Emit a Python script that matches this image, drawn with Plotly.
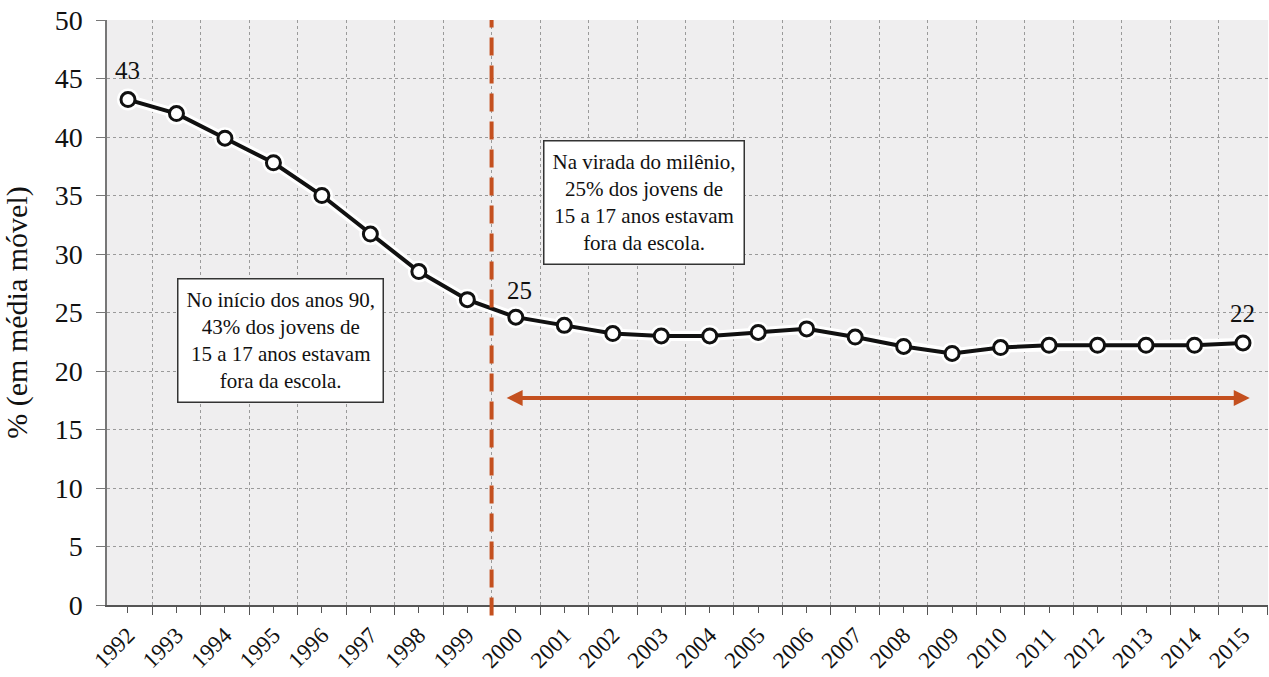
import plotly.graph_objects as go

years = list(range(1992, 2016))
values = [43.2, 42.0, 39.9, 37.8, 35.0, 31.7, 28.5, 26.1, 24.6, 23.9, 23.2, 23.0,
          23.0, 23.3, 23.6, 22.9, 22.1, 21.5, 22.0, 22.2, 22.2, 22.2, 22.2, 22.4]
y_ticks = [0, 5, 10, 15, 20, 25, 30, 35, 40, 45, 50]
y_title = "% (em média móvel)"
box_left = "No início dos anos 90,<br>43% dos jovens de<br>15 a 17 anos estavam<br>fora da escola."
box_right = "Na virada do milênio,<br>25% dos jovens de<br>15 a 17 anos estavam<br>fora da escola."
divider_year = 1999.5

FONT = "Liberation Serif"
ORANGE = "#c4501f"

fig = go.Figure()
# white halo under the line
fig.add_trace(go.Scatter(x=years, y=values, mode="lines+markers",
                         line=dict(color="white", width=10),
                         marker=dict(size=22, color="white"),
                         hoverinfo="skip", showlegend=False))
fig.add_trace(go.Scatter(x=years, y=values, mode="lines+markers",
                         line=dict(color="#111111", width=4),
                         marker=dict(size=14, color="white",
                                     line=dict(color="#111111", width=3)),
                         showlegend=False))

# vertical dashed divider
fig.add_shape(type="line", xref="x", yref="paper", x0=divider_year, x1=divider_year,
              y0=-0.018, y1=1, line=dict(color=ORANGE, width=4, dash="18px,10px"))

# double arrow
fig.add_annotation(x=2015.14, y=17.7, ax=1999.78, ay=17.7, xref="x", yref="y",
                   axref="x", ayref="y", showarrow=True, arrowside="end+start",
                   arrowhead=2, arrowsize=0.8, arrowwidth=4, arrowcolor=ORANGE, text="")

# value labels
for xv, yv, t in [(1992, 45.7, "43"), (2000.07, 26.9, "25"), (2015.0, 24.9, "22")]:
    fig.add_annotation(x=xv, y=yv, text=t, showarrow=False,
                       font=dict(family=FONT, size=25, color="#111"))

# text boxes
for xv, yv, t in [(1995.14, 22.65, box_left), (2002.64, 34.36, box_right)]:
    fig.add_annotation(x=xv, y=yv, text=t, showarrow=False, align="center",
                       font=dict(family=FONT, size=21, color="#111"),
                       bgcolor="white", bordercolor="#333", borderwidth=1.5,
                       borderpad=8)

fig.update_layout(
    width=1269, height=677,
    margin=dict(l=107, r=1, t=20, b=72),
    paper_bgcolor="white", plot_bgcolor="#efeeef",
    font=dict(family=FONT, color="#111"),
)
fig.update_xaxes(
    automargin=False,
    range=[1991.567, 2015.516],
    tickvals=years, ticktext=[str(y) for y in years],
    tickangle=-45, tickfont=dict(family=FONT, size=23, color="#111"),
    ticks="outside", ticklen=6, tickcolor="#555",
    showgrid=False, zeroline=False,
    showline=True, linecolor="#555", linewidth=1.5,
    minor=dict(tick0=1991.5, dtick=1, ticks="outside", ticklen=8, tickcolor="#555",
               showgrid=True, gridcolor="#9a9a9a", griddash="dot", gridwidth=1),
)
fig.update_yaxes(
    automargin=False,
    range=[0, 50], tickvals=y_ticks,
    tickfont=dict(family=FONT, size=28, color="#111"),
    ticks="outside", ticklen=9, tickcolor="#777", ticklabelstandoff=8,
    showgrid=True, gridcolor="#9a9a9a", griddash="dot", gridwidth=1,
    zeroline=False, showline=True, linecolor="#777", linewidth=1.5,
    title=dict(text=y_title, font=dict(family=FONT, size=30, color="#111"), standoff=18),
)

fig.write_html("out.html", config={"displayModeBar": False},
               post_script="document.body.style.margin='0';document.body.style.overflow='hidden';")
